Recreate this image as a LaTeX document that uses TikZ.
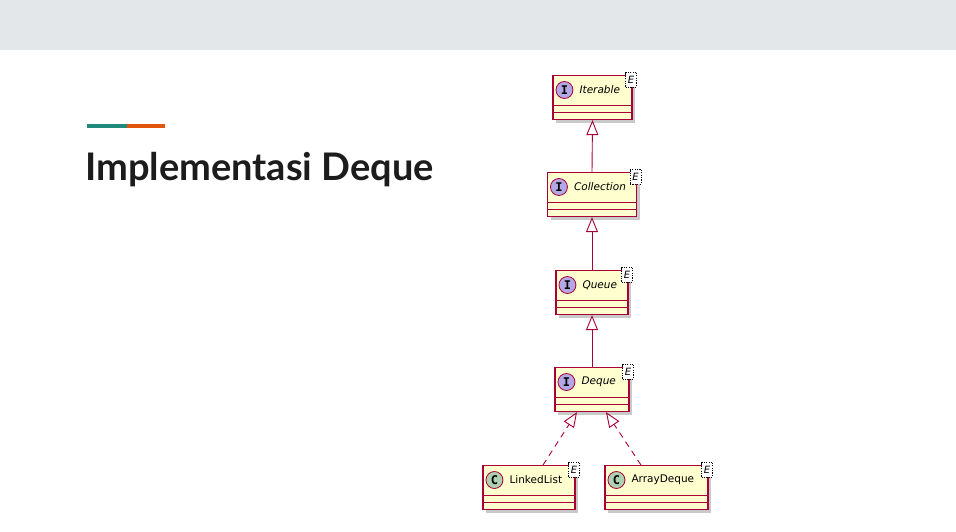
\documentclass[tikz,border=0pt]{standalone}
\usepackage{fontspec}
\setmainfont{DejaVu Sans}
\newfontfamily\umlmono{DejaVu Sans Mono}
\newfontfamily\titlefont{Lato}
\usetikzlibrary{arrows.meta,calc,shadows}
\definecolor{boxfill}{HTML}{FEFECE}
\definecolor{boxline}{HTML}{A80036}
\definecolor{ifacecirc}{HTML}{B4A7E5}
\definecolor{classcirc}{HTML}{ADD1B2}
\definecolor{topbar}{HTML}{E4E7EA}
\definecolor{teal}{HTML}{1F8A7C}
\definecolor{accorange}{HTML}{E2550E}
\definecolor{titletext}{HTML}{1C1C1C}
\tikzset{
  umlbox/.style={draw=boxline, fill=boxfill, line width=1.1pt, minimum height=44pt, inner sep=0pt,
     drop shadow={shadow xshift=3pt, shadow yshift=-3pt, opacity=0.35, fill=black!60}},
  compline/.style={draw=boxline, line width=1.1pt},
  umlcirc/.style={circle, draw=boxline, line width=0.8pt, minimum size=17pt, inner sep=0pt,
     font=\umlmono\bfseries\fontsize{12}{12}\selectfont},
  umllabel/.style={anchor=west, inner sep=0pt, font=\fontsize{10.5}{12}\selectfont},
  ebox/.style={draw=black, dashed, dash pattern=on 1.2pt off 1.2pt, fill=white, line width=0.5pt,
     minimum width=11pt, minimum height=15pt, inner sep=0pt, font=\itshape\fontsize{10}{10}\selectfont},
  genline/.style={draw=boxline, line width=0.9pt, -{Triangle[open, length=15pt, width=12pt, fill=white]}},
  realline/.style={genline, dash pattern=on 6pt off 5pt}
}
% #1 name, #2 x, #3 y (top), #4 width, #5 letter, #6 circle colour, #7 label
\newcommand{\umlclass}[7]{%
  \node[umlbox, minimum width=#4pt, anchor=north] (#1) at (#2,#3) {};
  \draw[compline] ($(#1.south west)+(0,-7.5)$) -- ($(#1.south east)+(0,-7.5)$);
  \draw[compline] ($(#1.south west)+(0,-15)$) -- ($(#1.south east)+(0,-15)$);
  \node[umlcirc, fill=#6] (#1c) at ($(#1.north west)+(12,15)$) {#5};
  \node[umllabel] (#1t) at ($(#1c.east)+(6,0)$) {#7};
  \node[ebox] (#1e) at ($(#1.north east)+(-1.5,4.5)$) {E};
}
\begin{document}
\begin{tikzpicture}[x=1pt,y=-1pt]
\useasboundingbox (0,0) rectangle (956,532);
\fill[white] (0,0) rectangle (956,532);
\fill[topbar] (0,0) rectangle (956,50);
% accent line
\fill[teal] (87,124.5) rectangle (127,128.5);
\fill[accorange] (127,124.5) rectangle (165,128.5);
\node[anchor=base west, inner sep=0pt, text=titletext, font=\titlefont\bfseries\fontsize{38}{42}\selectfont] (title) at (85,181) {Implementasi Deque};
% classes
\umlclass{iter}{592.5}{75}{79}{I}{ifacecirc}{\itshape Iterable}
\umlclass{coll}{592}{172}{89}{I}{ifacecirc}{\itshape Collection}
\umlclass{queue}{592}{270}{72}{I}{ifacecirc}{\itshape Queue}
\umlclass{deque}{592}{367}{74}{I}{ifacecirc}{\itshape Deque}
\umlclass{ll}{529}{465}{92}{C}{classcirc}{LinkedList}
\umlclass{ad}{656.5}{465}{103}{C}{classcirc}{ArrayDeque}
% generalizations
\draw[genline] (coll.north) -- (iter.south);
\draw[genline] (queue.north) -- (coll.south);
\draw[genline] (deque.north) -- (queue.south);
% realizations
\draw[realline] ($(ll.north)+(14,0)$) -- ($(deque.south)+(-15,0)$);
\draw[realline] ($(ad.north)+(-15.5,0)$) -- ($(deque.south)+(14,0)$);
\end{tikzpicture}
\end{document}
